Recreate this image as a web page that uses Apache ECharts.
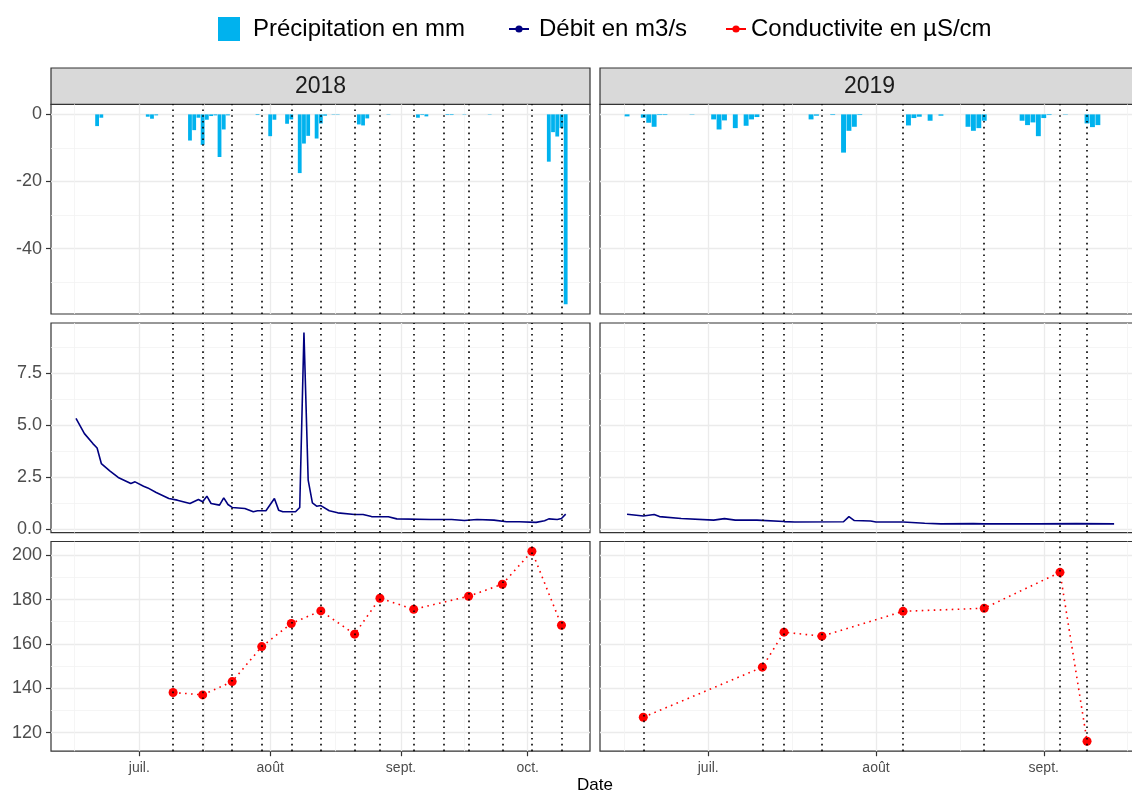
<!DOCTYPE html>
<html>
<head>
<meta charset="utf-8">
<script src="https://cdn.jsdelivr.net/npm/echarts@6/dist/echarts.min.js"></script>
<style>
  html, body { margin: 0; padding: 0; background: #fff; }
  #chart { width: 1132px; height: 792px; }
</style>
</head>
<body>
<div id="chart"></div>
<script>
// x = day of year (2018 and 2019 not leap years): 182 = 1 July
var precip2018 = [
  [172, -3.5], [173, -1.0], [184, -0.7], [185, -1.3], [186, -0.3],
  [194, -7.8], [195, -4.7], [196, -1.0], [197, -9.1], [198, -1.6], [199, -0.5], [200, -0.3],
  [201, -12.7], [202, -4.5], [203, -0.3], [210, -0.2], [213, -6.5], [214, -1.6], [217, -2.8],
  [218, -1.5], [220, -17.5], [221, -8.7], [222, -6.4], [224, -7.2], [225, -2.7], [226, -0.4],
  [228, -0.1], [229, -0.1], [234, -3.0], [235, -3.3], [236, -1.2], [241, -0.1], [248, -1.0],
  [249, -0.2], [250, -0.6], [255, -0.2], [256, -0.2], [259, -0.1], [265, -0.1],
  [279, -14.1], [280, -5.3], [281, -6.6], [282, -4.1], [283, -56.6]
];
var precip2019 = [
  [167, -0.6], [170, -1.0], [171, -2.5], [172, -3.7], [173, -0.2], [174, -0.2], [179, -0.1],
  [183, -1.5], [184, -4.5], [185, -1.8], [187, -4.1], [189, -3.4], [190, -1.5], [191, -0.8],
  [201, -1.5], [202, -0.4], [205, -0.2], [207, -11.4], [208, -4.9], [209, -3.7], [210, -0.2],
  [219, -3.3], [220, -1.1], [221, -0.7], [223, -1.9], [225, -0.4], [230, -3.7], [231, -4.9],
  [232, -4.1], [233, -1.9], [240, -1.9], [241, -3.2], [242, -2.4], [243, -6.5], [244, -1.1],
  [245, -0.2], [248, -0.1], [252, -2.7], [253, -3.8], [254, -3.2]
];
var debit2018 = [
  [167, 5.34], [169, 4.61], [171, 4.13], [172, 3.92], [173, 3.17], [175, 2.82], [177, 2.50],
  [180, 2.21], [181, 2.29], [183, 2.08], [184, 2.00], [186, 1.78], [189, 1.49], [191, 1.41],
  [194, 1.25], [196, 1.44], [197, 1.33], [198, 1.60], [199, 1.25], [201, 1.17], [202, 1.52],
  [203, 1.20], [204, 1.06], [207, 1.01], [209, 0.85], [210, 0.90], [212, 0.90], [214, 1.49],
  [215, 0.93], [216, 0.85], [219, 0.85], [220, 1.06], [221, 9.47], [222, 2.37], [223, 1.28],
  [224, 1.12], [225, 1.15], [227, 0.90], [229, 0.80], [233, 0.72], [235, 0.72], [237, 0.62],
  [241, 0.61], [243, 0.51], [251, 0.48], [256, 0.48], [259, 0.43], [262, 0.48], [266, 0.45],
  [269, 0.37], [272, 0.37], [276, 0.34], [278, 0.42], [279, 0.51], [281, 0.48], [282, 0.53],
  [283, 0.74]
];
var debit2019 = [
  [167, 0.73], [170, 0.65], [172, 0.72], [173, 0.62], [177, 0.53], [183, 0.45], [185, 0.52],
  [187, 0.45], [191, 0.45], [196, 0.38], [198, 0.36], [207, 0.37], [208, 0.62], [209, 0.43],
  [212, 0.41], [213, 0.36], [218, 0.36], [222, 0.30], [225, 0.27], [231, 0.28], [233, 0.27],
  [243, 0.27], [250, 0.28], [257, 0.27]
];
var cond2018 = [
  [190, 138.1], [197, 137.0], [204, 143.0], [211, 158.8], [218, 169.2], [225, 174.9],
  [233, 164.4], [239, 180.6], [247, 175.6], [260, 181.5], [268, 186.9], [275, 201.8], [282, 168.4]
];
var cond2019 = [
  [170, 126.9], [192, 149.5], [196, 165.3], [203, 163.5], [218, 174.7], [233, 176.1],
  [247, 192.3], [252, 116.1]
];
// sampling days (dotted vertical lines)
var samples2018 = [190, 197, 204, 211, 218, 225, 233, 239, 247, 254, 260, 268, 275, 282];
var samples2019 = [170, 192, 196, 203, 218, 233, 247, 252];

var years = ['2018', '2019'];
var monthDays = [[182, 213, 244, 274], [182, 213, 244]];
var monthNames = { 182: 'juil.', 213: 'août', 244: 'sept.', 274: 'oct.' };
var minorDays = [[166.5, 197.5, 228.5, 259], [166.5, 197.5, 228.5, 259.5]];
var yMajor = [[-40, -20, 0], [0, 2.5, 5, 7.5], [120, 140, 160, 180, 200]];
var yMinor = [[-50, -30, -10], [1.25, 3.75, 6.25, 8.75], [130, 150, 170, 190]];

var FONT = '"Liberation Sans", Arial, sans-serif';
var BAR = '#00B2EE', NAVY = '#000080', RED = '#FF0000';

var colLeft = [51, 600];
var colWidth = 539;
var rowTop = [104.3, 323, 541.5];
var rowHeight = 209.7;
var xRange = [[161.08, 288.76], [162.0, 261.6]];
var yRange = [[-59.5, 3.0], [-0.155, 9.93], [111.6, 206.2]];

var chart = echarts.init(document.getElementById('chart'));

var grids = [], xAxes = [], yAxes = [], series = [], graphics = [];

for (var r = 0; r < 3; r++) {
  for (var c = 0; c < 2; c++) {
    var gi = r * 2 + c;
    grids.push({
      left: colLeft[c], top: rowTop[r], width: colWidth, height: rowHeight,
      show: true, backgroundColor: '#fff', borderColor: '#333', borderWidth: 1.2,
      containLabel: false, outerBoundsMode: 'none'
    });
    xAxes.push({
      type: 'value', gridIndex: gi, min: xRange[c][0], max: xRange[c][1],
      axisLine: { show: false },
      splitLine: { show: false },
      axisTick: { show: r === 2, customValues: monthDays[c], length: 5, lineStyle: { color: '#333', width: 1.2 } },
      axisLabel: {
        show: r === 2, customValues: monthDays[c], margin: 10,
        fontSize: 14, color: '#4D4D4D', fontFamily: FONT,
        formatter: function (v) { return monthNames[Math.round(v)] || ''; }
      }
    });
    yAxes.push({
      type: 'value', gridIndex: gi, min: yRange[r][0], max: yRange[r][1],
      axisLine: { show: false },
      splitLine: { show: false },
      axisTick: { show: c === 0, customValues: yMajor[r], length: 5, lineStyle: { color: '#333', width: 1.2 } },
      axisLabel: {
        show: c === 0, customValues: yMajor[r], margin: 9,
        fontSize: 18, color: '#4D4D4D', fontFamily: FONT,
        formatter: r === 1 ? function (v) { return v.toFixed(1); } : function (v) { return String(v); }
      }
    });

    // background grid (ggplot theme_bw)
    var gridLines = [];
    yMajor[r].forEach(function (v) { gridLines.push({ yAxis: v, lineStyle: { color: '#EBEBEB', width: 1.3 } }); });
    yMinor[r].forEach(function (v) { gridLines.push({ yAxis: v, lineStyle: { color: '#F3F3F3', width: 0.8 } }); });
    monthDays[c].forEach(function (v) { gridLines.push({ xAxis: v, lineStyle: { color: '#EBEBEB', width: 1.3 } }); });
    minorDays[c].forEach(function (v) { gridLines.push({ xAxis: v, lineStyle: { color: '#F3F3F3', width: 0.8 } }); });
    series.push({
      type: 'line', xAxisIndex: gi, yAxisIndex: gi, data: [], silent: true,
      markLine: {
        z: 1, silent: true, symbol: ['none', 'none'], label: { show: false },
        emphasis: { disabled: true }, lineStyle: { type: 'solid' }, data: gridLines
      }
    });

    var sampleLines = {
      silent: true, symbol: ['none', 'none'], label: { show: false }, emphasis: { disabled: true },
      lineStyle: { color: '#000', width: 1.6, type: [1.6, 4.2] },
      data: (c === 0 ? samples2018 : samples2019).map(function (d) { return { xAxis: d }; })
    };

    if (r === 0) {
      series.push({
        name: 'Précipitation en mm', type: 'bar', xAxisIndex: gi, yAxisIndex: gi,
        data: c === 0 ? precip2018 : precip2019,
        barWidth: c === 0 ? 3.8 : 4.9,
        itemStyle: { color: BAR }, emphasis: { disabled: true },
        markLine: sampleLines
      });
    } else if (r === 1) {
      series.push({
        name: 'Débit en m3/s', type: 'line', xAxisIndex: gi, yAxisIndex: gi,
        data: c === 0 ? debit2018 : debit2019,
        symbol: 'circle', showSymbol: false,
        lineStyle: { color: NAVY, width: 1.6 }, itemStyle: { color: NAVY },
        emphasis: { disabled: true },
        markLine: sampleLines
      });
    } else {
      series.push({
        name: 'Conductivite en µS/cm', type: 'line', xAxisIndex: gi, yAxisIndex: gi,
        data: c === 0 ? cond2018 : cond2019,
        symbol: 'circle', symbolSize: 9,
        lineStyle: { color: RED, width: 1.6, type: [1.6, 4.4] }, itemStyle: { color: RED },
        emphasis: { disabled: true },
        markLine: sampleLines
      });
    }
  }
}

// facet strips
for (var c2 = 0; c2 < 2; c2++) {
  graphics.push({
    type: 'rect', shape: { x: colLeft[c2], y: 68, width: colWidth, height: 36.3 },
    style: { fill: '#D9D9D9', stroke: '#333', lineWidth: 1.2 }
  });
  graphics.push({
    type: 'text', x: colLeft[c2] + colWidth / 2, y: 87,
    style: { text: years[c2], fill: '#1A1A1A', font: '23px ' + FONT, align: 'center', verticalAlign: 'middle' }
  });
}
graphics.push({
  type: 'text', x: 595, y: 785,
  style: { text: 'Date', fill: '#000', font: '17px ' + FONT, align: 'center', verticalAlign: 'middle' }
});

var legendText = { fontSize: 24, color: '#000', fontFamily: FONT };

var option = {
  animation: false,
  backgroundColor: '#fff',
  grid: grids,
  xAxis: xAxes,
  yAxis: yAxes,
  legend: [
    {
      data: ['Précipitation en mm'], left: 218, top: 17, padding: 0, selectedMode: false,
      icon: 'rect', itemWidth: 22, itemHeight: 24,
      textStyle: Object.assign({ padding: [0, 0, 0, 8] }, legendText)
    },
    {
      data: ['Débit en m3/s'], left: 508, top: 17, padding: 0, selectedMode: false,
      itemWidth: 20, itemHeight: 9,
      textStyle: Object.assign({ padding: [0, 0, 0, 5] }, legendText)
    },
    {
      data: ['Conductivite en µS/cm'], left: 725, top: 17, padding: 0, selectedMode: false,
      itemWidth: 20, itemHeight: 9, lineStyle: { type: 'solid' },
      textStyle: legendText
    }
  ],
  graphic: graphics,
  series: series
};

chart.setOption(option);
</script>
</body>
</html>
